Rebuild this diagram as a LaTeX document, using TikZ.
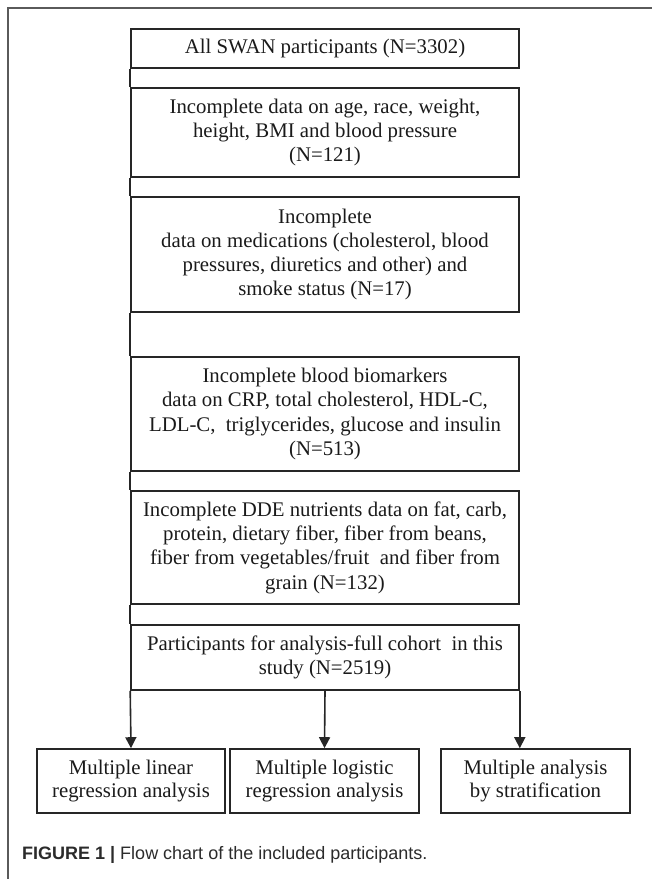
\documentclass[tikz,border=0pt]{standalone}
\usepackage{fontspec}
\setmainfont{Liberation Serif}
\newfontfamily\capfont{Liberation Sans}
\usetikzlibrary{arrows.meta}
\definecolor{boxline}{HTML}{262626}
\definecolor{framegrey}{HTML}{5A5A5A}
\definecolor{captext}{HTML}{2B2B2B}
\definecolor{boxtext}{HTML}{1A1A1A}
\tikzset{
  mainbox/.style={draw=boxline, line width=1.6pt, minimum width=388pt, align=center, inner sep=0pt,
    text=boxtext, font=\fontsize{20.8}{24.3}\selectfont},
  subbox/.style={draw=boxline, line width=1.6pt, minimum width=188pt, minimum height=64pt, align=center, inner sep=0pt,
    text=boxtext, font=\fontsize{20.8}{23.5}\selectfont},
  link/.style={draw=boxline, line width=1.6pt},
  arrowlink/.style={draw=boxline, line width=1.6pt, -{Triangle[width=11pt,length=11pt]}},
}
\begin{document}
\begin{tikzpicture}[x=1pt,y=-1pt]
\useasboundingbox (0,0) rectangle (652,879);
% outer frame (top and left only)
\draw[framegrey, line width=1.1pt] (8,879) -- (8,8) -- (652,8);

\node[mainbox, minimum height=39pt] (b1) at (325,48.5) {All SWAN participants (N=3302)};
\node[mainbox, minimum height=89pt] (b2) at (325,132.5) {Incomplete data on age, race, weight,\\height, BMI and blood pressure\\(N=121)};
\node[mainbox, minimum height=115pt] (b3) at (325,254.5) {Incomplete\\data on medications (cholesterol, blood\\pressures, diuretics and other) and\\smoke status (N=17)};
\node[mainbox, minimum height=114pt] (b4) at (325,414) {Incomplete blood biomarkers\\data on CRP, total cholesterol, HDL-C,\\LDL-C,\ \ triglycerides, glucose and insulin\\(N=513)};
\node[mainbox, minimum height=113pt] (b5) at (325,547.5) {Incomplete DDE nutrients data on fat, carb,\\protein, dietary fiber, fiber from beans,\\fiber from vegetables/fruit\ \ and fiber from\\grain (N=132)};
\node[mainbox, minimum height=65pt] (b6) at (325,657.5) {Participants for analysis-full cohort\ \ in this\\study (N=2519)};

\node[subbox] (s1) at (131,781) {Multiple linear\\regression analysis};
\node[subbox, minimum width=189pt] (s2) at (324.5,781) {Multiple logistic\\regression analysis};
\node[subbox, minimum width=189pt] (s3) at (535.5,781) {Multiple analysis\\by stratification};

% left continuous side line between boxes
\path[link] (b1.south west) -- (b2.north west);
\path[link] (b2.south west) -- (b3.north west);
\path[link] (b3.south west) -- (b4.north west);
\path[link] (b4.south west) -- (b5.north west);
\path[link] (b5.south west) -- (b6.north west);

% arrows to the analyses
\coordinate (rt) at (b6.south east |- s3.north);
\path[arrowlink] (b6.south west) -- (s1.north);
\path[arrowlink] (b6.south) -- (s2.north);
\path[arrowlink] (b6.south east) -- (rt);

\node[anchor=west, inner sep=0pt, text=captext, font=\capfont\fontsize{18}{21}\selectfont] (cap) at (22,855)
  {\textbf{FIGURE 1 |} Flow chart of the included participants.};
\end{tikzpicture}
\end{document}
